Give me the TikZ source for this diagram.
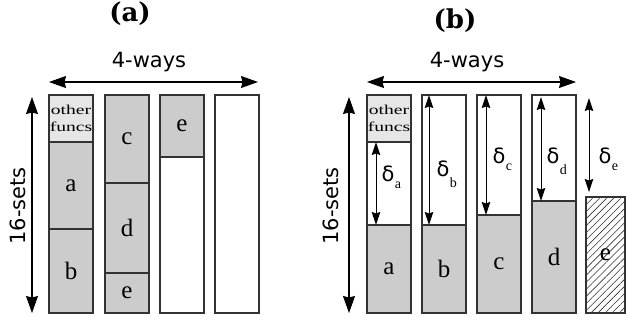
\documentclass[tikz,border=0pt]{standalone}
\usepackage{fontspec}
\usetikzlibrary{arrows.meta,patterns.meta}
\newfontfamily\sansf{DejaVu Sans}
\newfontfamily\serf{Liberation Serif}
\newfontfamily\titf{DejaVu Serif}
\definecolor{cellgray}{HTML}{CCCCCC}
\definecolor{ofgray}{HTML}{E6E6E6}
\definecolor{linec}{HTML}{333333}
\newcommand\ofntext{\scalebox{1.45}[1]{other}\\\scalebox{1.45}[1]{funcs}}
\begin{document}
\begin{tikzpicture}[x=1pt,y=-1pt,
  cell/.style={draw=linec,line width=1.2pt,inner sep=0pt,outer sep=0pt,anchor=north west,
    minimum width=44pt,font=\serf\fontsize{25}{25}\selectfont},
  gcell/.style={cell,fill=cellgray},
  wcell/.style={cell,fill=white},
  ofcell/.style={cell,fill=ofgray,align=center,font=\serf\fontsize{13.5}{16.5}\selectfont},
  hcell/.style={cell,pattern={Lines[angle=45,distance=5pt,line width=0.6pt]},pattern color=linec},
  bigarr/.style={line width=1.1pt,draw=black,{Stealth[length=17pt,width=12pt,inset=1.5pt]}-{Stealth[length=17pt,width=12pt,inset=1.5pt]}},
  darr/.style={line width=1pt,draw=black,{Stealth[length=13pt,width=8.5pt,inset=1.5pt]}-{Stealth[length=13pt,width=8.5pt,inset=1.5pt]}},
  title/.style={font=\titf\bfseries\fontsize{26}{26}\selectfont,inner sep=0pt},
  dimlabel/.style={font=\sansf\fontsize{21}{21}\selectfont,inner sep=0pt,anchor=base},
  dlt/.style={font=\sansf\fontsize{21}{21}\selectfont,inner sep=0pt},
  dsub/.style={font=\serf\fontsize{14}{14}\selectfont,inner sep=0pt,anchor=north west}]
\useasboundingbox (0,0) rectangle (626,324);
\fill[white] (0,0) rectangle (626,324);

% ---------- panel (a) ----------
\node[title] (ta) at (130,14) {(a)};
\node[dimlabel] (wa) at (149,67) {4-ways};
\node[dimlabel,rotate=90] (sa) at (25,206) {16-sets};
\coordinate (waL) at (49,82);
\coordinate (waR) at (258,82);
\draw[bigarr] (waL) -- (waR);
\coordinate (saT) at (32,97);
\coordinate (saB) at (32,313);
\draw[bigarr] (saT) -- (saB);

\node[ofcell,minimum height=47pt] (a1o) at (49,95) {\ofntext};
\node[gcell,minimum height=87pt] (a1a) at (49,142) {a};
\node[gcell,minimum height=84pt] (a1b) at (49,229) {b};
\node[gcell,minimum height=88pt] (a2c) at (105,95) {c};
\node[gcell,minimum height=90pt] (a2d) at (105,183) {d};
\node[gcell,minimum height=40pt] (a2e) at (105,273) {e};
\node[gcell,minimum height=62pt] (a3e) at (160,95) {e};
\node[wcell,minimum height=156pt] (a3w) at (160,157) {};
\node[wcell,minimum height=218pt] (a4w) at (215,95) {};

% ---------- panel (b) ----------
\node[title] (tb) at (455,21) {(b)};
\node[dimlabel] (wb) at (467,67) {4-ways};
\node[dimlabel,rotate=90] (sb) at (338,206) {16-sets};
\coordinate (wbL) at (367,82);
\coordinate (wbR) at (576,82);
\draw[bigarr] (wbL) -- (wbR);
\coordinate (sbT) at (349,97);
\coordinate (sbB) at (349,313);
\draw[bigarr] (sbT) -- (sbB);

\node[ofcell,minimum height=47pt] (b1o) at (367,95) {\ofntext};
\node[wcell,minimum height=83pt] (b1w) at (367,142) {};
\node[gcell,minimum height=88pt] (b1a) at (367,225) {a};
\node[wcell,minimum height=130pt] (b2w) at (422,95) {};
\node[gcell,minimum height=88pt] (b2b) at (422,225) {b};
\node[wcell,minimum height=120pt] (b3w) at (477,95) {};
\node[gcell,minimum height=98pt] (b3c) at (477,215) {c};
\node[wcell,minimum height=106pt] (b4w) at (532,95) {};
\node[gcell,minimum height=112pt] (b4d) at (532,201) {d};
\node[hcell,minimum width=39pt,minimum height=116pt] (b5e) at (586,197) {e};

% delta arrows
\draw[darr] ([xshift=9pt]b1w.north west) -- ([xshift=9pt]b1a.north west);
\draw[darr] ([xshift=7pt]b2w.north west) -- ([xshift=7pt]b2b.north west);
\draw[darr] ([xshift=9pt]b3w.north west) -- ([xshift=9pt]b3c.north west);
\draw[darr] ([xshift=9pt,yshift=-2pt]b4w.north west) -- ([xshift=9pt]b4d.north west);
\coordinate (e5top) at (589,98);
\coordinate (e5bot) at (589,192);
\draw[darr] (e5top) -- (e5bot);

% delta labels
\node[dlt] (da) at (388,174) {δ};
\node[dsub] (sa1) at (da.south east) {a};
\node[dlt] (db) at (443,169) {δ};
\node[dsub] (sb1) at (db.south east) {b};
\node[dlt] (dc) at (499,156) {δ};
\node[dsub] (sc1) at (dc.south east) {c};
\node[dlt] (dd) at (553,156) {δ};
\node[dsub] (sd1) at (dd.south east) {d};
\node[dlt] (de) at (605,156) {δ};
\node[dsub] (se1) at (de.south east) {e};
\end{tikzpicture}
\end{document}
